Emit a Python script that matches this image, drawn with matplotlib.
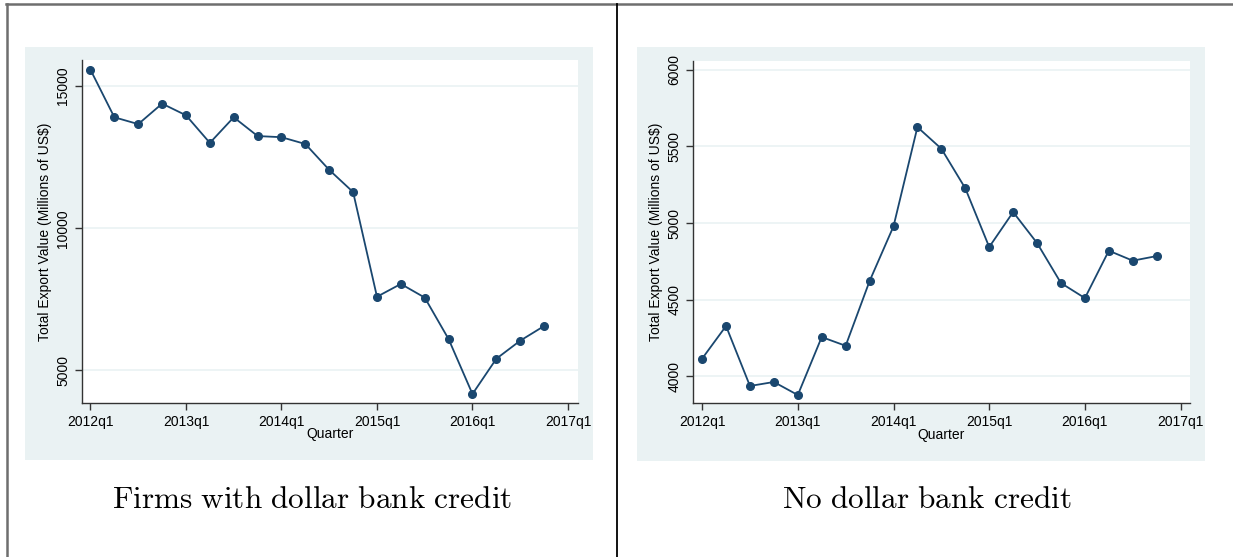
import matplotlib.pyplot as plt
from matplotlib.lines import Line2D
from matplotlib.patches import Rectangle

# quarterly export values, 2012q1 .. 2016q4
quarters = ["2012q1", "2013q1", "2014q1", "2015q1", "2016q1", "2017q1"]
dollar_credit = [15570, 13900, 13660, 14380, 13970, 13000, 13900, 13240, 13200, 12960,
                 12050, 11270, 7590, 8040, 7560, 6100, 4170, 5410, 6045, 6560]
no_dollar_credit = [4116, 4329, 3938, 3964, 3879, 4257, 4200, 4622, 4979, 5626,
                    5485, 5227, 4844, 5072, 4870, 4609, 4511, 4820, 4755, 4785]
captions = ["Firms with dollar bank credit", "No dollar bank credit"]

W, H = 1233, 557
plt.rcParams["font.family"] = ["Liberation Sans", "DejaVu Sans"]
plt.rcParams["mathtext.fontset"] = "cm"
fig = plt.figure(figsize=(W / 100, H / 100), dpi=100)

navy = "#1a476f"
bg = "#eaf2f3"


def px_box(x0, y0, x1, y1):
    return [x0 / W, 1 - y1 / H, (x1 - x0) / W, (y1 - y0) / H]


panels = [
    dict(data=dollar_credit, bg=(25, 46.7, 593, 460.3), ax=(82, 60.3, 578, 402.7),
         xlim=(-0.356, 20.42), ylim=(3864, 15904), yticks=[5000, 10000, 15000], cx=312),
    dict(data=no_dollar_credit, bg=(637, 46.7, 1205, 460.7), ax=(693.4, 61, 1189.7, 403.3),
         xlim=(-0.364, 20.38), ylim=(3825, 6057), yticks=[4000, 4500, 5000, 5500, 6000], cx=927),
]

for p, cap in zip(panels, captions):
    x0, y0, x1, y1 = p["bg"]
    fig.add_artist(Rectangle((x0 / W, 1 - y1 / H), (x1 - x0) / W, (y1 - y0) / H,
                             transform=fig.transFigure, facecolor=bg, edgecolor="none", zorder=0))
    ax = fig.add_axes(px_box(*p["ax"]))
    ax.set_facecolor("white")
    ax.plot(range(len(p["data"])), p["data"], color=navy, lw=1.3, marker="o",
            markersize=5.5, markerfacecolor=navy, markeredgecolor=navy, zorder=3)
    ax.set_xlim(*p["xlim"])
    ax.set_ylim(*p["ylim"])
    ax.set_xticks(range(0, 21, 4))
    ax.set_xticklabels(quarters)
    ax.set_yticks(p["yticks"])
    ax.set_yticklabels([str(v) for v in p["yticks"]], rotation=90, va="center")
    ax.grid(axis="y", color=bg, lw=1.2)
    ax.set_axisbelow(True)
    for s in ["top", "right"]:
        ax.spines[s].set_visible(False)
    for s in ["left", "bottom"]:
        ax.spines[s].set_color("#333333")
        ax.spines[s].set_linewidth(1.0)
    ax.tick_params(axis="both", labelsize=10, length=5, width=1.0, color="#333333", pad=3.5)
    ax.set_xlabel("Quarter", fontsize=10, labelpad=-1)
    ax.set_ylabel("Total Export Value (Millions of US$)", fontsize=10, labelpad=3)
    fig.text(p["cx"] / W, 1 - 500 / H, r"$\mathrm{" + cap.replace(" ", r"\ ") + "}$",
             ha="center", va="center", fontsize=22.5)

# outer frame
fig.add_artist(Line2D([6 / W, 1], [1 - 4 / H, 1 - 4 / H], transform=fig.transFigure,
                      color="#6e6e6e", lw=1.8))
fig.add_artist(Line2D([6.5 / W, 6.5 / W], [0, 1 - 4 / H], transform=fig.transFigure,
                      color="#6e6e6e", lw=1.8))
fig.add_artist(Line2D([617 / W, 617 / W], [0, 1 - 4 / H], transform=fig.transFigure,
                      color="black", lw=1.3))

fig.savefig("out.png", dpi=100)
